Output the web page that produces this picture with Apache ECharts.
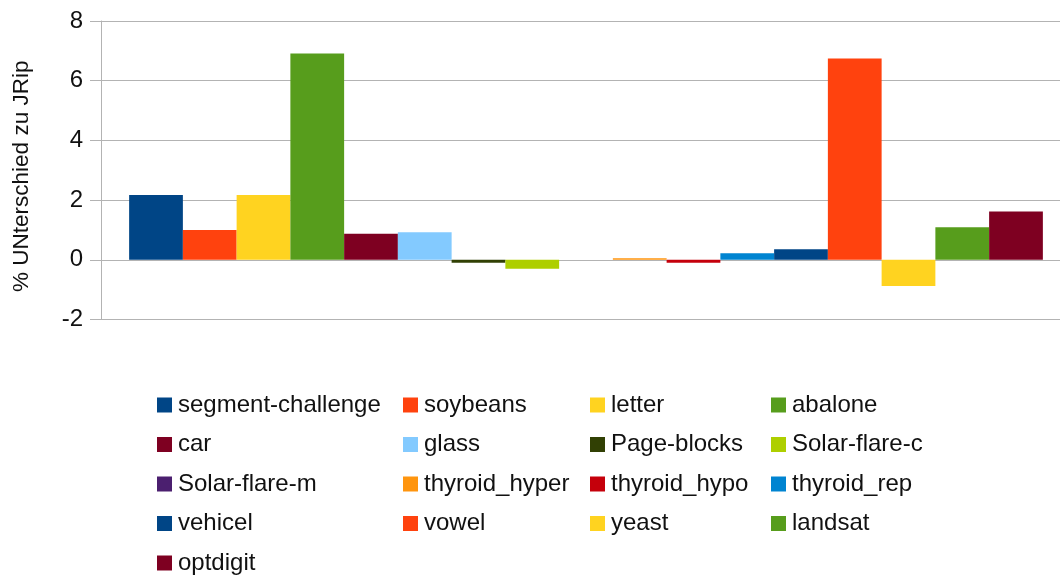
<!DOCTYPE html>
<html>
<head>
<meta charset="utf-8">
<script src="https://cdn.jsdelivr.net/npm/echarts@6/dist/echarts.min.js"></script>
<style>
  html, body { margin: 0; padding: 0; background: #fff; }
  #chart { width: 1060px; height: 577px; }
</style>
</head>
<body>
<div id="chart"></div>
<script>
// Datasets compared against JRip (percentage difference)
const datasets = [
  'segment-challenge', 'soybeans', 'letter', 'abalone',
  'car', 'glass', 'Page-blocks', 'Solar-flare-c',
  'Solar-flare-m', 'thyroid_hyper', 'thyroid_hypo', 'thyroid_rep',
  'vehicel', 'vowel', 'yeast', 'landsat',
  'optdigit'
];
const differences = [
  2.17, 1.0, 2.17, 6.91,
  0.87, 0.92, -0.1, -0.3,
  0.0, 0.05, -0.1, 0.22,
  0.35, 6.74, -0.88, 1.09,
  1.62
];
const palette = [
  '#004586', '#ff420e', '#ffd320', '#579d1c',
  '#7e0021', '#83caff', '#314004', '#aecf00',
  '#4b1f6f', '#ff950e', '#c5000b', '#0084d1',
  '#004586', '#ff420e', '#ffd320', '#579d1c',
  '#7e0021'
];
const yTicks = { min: -2, max: 8, interval: 2 };
const axisTitle = '% UNterschied zu JRip';

const font = 'Liberation Sans, Arial, sans-serif';
const textColor = '#111';
const gridColor = '#b3b3b3';

const series = datasets.map((name, i) => ({
  name: name,
  type: 'bar',
  data: [differences[i]],
  barGap: '0%',
  barCategoryGap: '5.8%',
  itemStyle: { color: palette[i] }
}));

// Legend laid out as four columns, filled row by row
const columnX = [157, 403, 590, 771];
const legends = columnX.map((x, c) => ({
  orient: 'vertical',
  left: x,
  top: 393,
  height: 220,
  padding: 0,
  itemWidth: 15,
  itemHeight: 15,
  itemGap: 15.5,
  icon: 'rect',
  data: datasets.filter((_, i) => i % 4 === c),
  textStyle: {
    fontFamily: font, fontSize: 24, color: textColor,
    lineHeight: 24, padding: [0, 0, 0, 1]
  },
  selectedMode: false
}));

const chart = echarts.init(document.getElementById('chart'), null, { renderer: 'canvas' });
chart.setOption({
  animation: false,
  color: palette,
  grid: {
    left: 101, top: 21, width: 970, height: 298.5,
    containLabel: false, outerBoundsMode: 'none'
  },
  legend: legends,
  xAxis: {
    type: 'category',
    data: [''],
    axisLine: { show: false },
    axisTick: { show: false },
    axisLabel: { show: false },
    splitLine: { show: false }
  },
  yAxis: {
    type: 'value',
    min: yTicks.min,
    max: yTicks.max,
    interval: yTicks.interval,
    name: axisTitle,
    nameLocation: 'middle',
    nameGap: 68,
    nameTextStyle: {
      fontFamily: font, fontSize: 22.5, color: textColor,
      padding: [0, 12, 0, 0]
    },
    axisLine: { show: true, lineStyle: { color: gridColor, width: 1 } },
    axisTick: { show: true, length: 11, lineStyle: { color: gridColor } },
    axisLabel: { fontFamily: font, fontSize: 24, color: textColor, margin: 18 },
    splitLine: { show: true, lineStyle: { color: gridColor, width: 1 } }
  },
  series: series
});
</script>
</body>
</html>
